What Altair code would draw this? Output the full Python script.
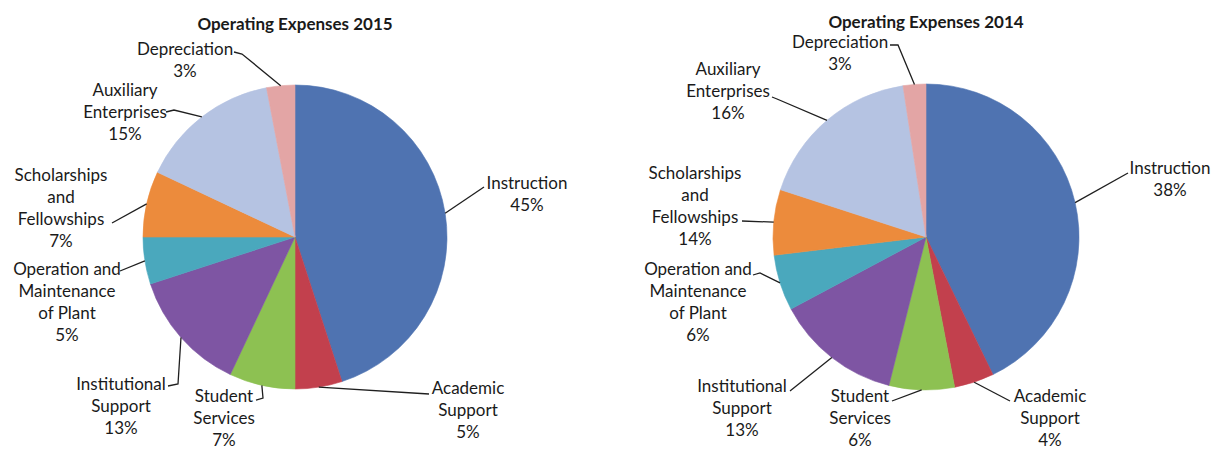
import math
import altair as alt
import pandas as pd

# ---------------- data ----------------
categories = [
    "Instruction", "Academic Support", "Student Services", "Institutional Support",
    "Operation and Maintenance of Plant", "Scholarships and Fellowships",
    "Auxiliary Enterprises", "Depreciation",
]
label_names = [
    "Instruction", "Academic\nSupport", "Student\nServices", "Institutional\nSupport",
    "Operation and\nMaintenance\nof Plant", "Scholarships\nand\nFellowships",
    "Auxiliary\nEnterprises", "Depreciation",
]
# percentages printed on the labels
pct_2015 = [45, 5, 7, 13, 5, 7, 15, 3]
pct_2014 = [38, 4, 6, 13, 6, 14, 16, 3]
# slice sizes as drawn (2014 pie is drawn with different proportions than its labels)
share_2015 = [45, 5, 7, 13, 5, 7, 15, 3]
share_2014 = [42.8, 4.2, 6.9, 13.3, 5.9, 6.9, 17.6, 2.4]

colors = ["#4F73B1", "#C2404D", "#8DC152", "#7E55A3",
          "#4AA8BD", "#EC8B3C", "#B5C3E2", "#E3A5A5"]

# ---------------- layout (pixel offsets of label-block centres from pie centre) ----------------
W, H = 574, 402
FONT = "Lato"
LINE_H = 22

layout_2015 = {
    "R": 152,
    "text": [(232, -42), (173, 174), (-71, 182), (-174, 170),
             (-228, 66), (-234, -28), (-170, -124), (-110, -176)],
    "lead": [[(189, -50)], [(134, 157)], [(-39, 163), (-32, 161)], [(-127, 149), (-117, 147)],
             [(-175, 34)], [(-183, -14)], [(-129, -125), (-121, -127)], [(-61, -185), (-53, -183)]],
}
layout_2014 = {
    "R": 153,
    "text": [(244, -57), (124, 182), (-66, 182), (-184, 172),
             (-228, 66), (-231, -30), (-198, -145), (-86, -183)],
    "lead": [[(202, -64)], [(84, 164)], [(-34, 164)], [(-136, 154)],
             [(-173, 38), (-166, 36)], [(-184, -16)], [(-154, -140), (-149, -138)], [(-36, -192), (-28, -192)]],
}


def panel(title, shares, pcts, lay):
    R = lay["R"]
    total = float(sum(shares))
    slices = pd.DataFrame({
        "category": categories,
        "share": shares,
        "idx": list(range(len(categories))),
    })

    # leader lines: label-side points, then the slice's outer edge at its mid-angle
    rows = []
    cum = 0.0
    for i, (cat, s) in enumerate(zip(categories, shares)):
        mid = (cum + s / 2.0) / total * 2 * math.pi
        cum += s
        pts = list(lay["lead"][i]) + [(R * math.sin(mid), -R * math.cos(mid))]
        for j, (px, py) in enumerate(pts):
            rows.append({"category": cat, "pt": j, "x": px, "y": py})
    leaders = pd.DataFrame(rows)

    label_text = [f"{n}\n{p}%" for n, p in zip(label_names, pcts)]
    n_lines = [t.count("\n") + 1 for t in label_text]
    texts = pd.DataFrame({
        "category": categories,
        "label": label_text,
        "x": [t[0] for t in lay["text"]],
        # multi-line text is anchored at its first line
        "y": [t[1] - (n - 1) * LINE_H / 2.0 for t, n in zip(lay["text"], n_lines)],
    })

    xs = alt.Scale(domain=[-W / 2, W / 2], nice=False, zero=False)
    ys = alt.Scale(domain=[-H / 2, H / 2], nice=False, zero=False, reverse=True)
    cscale = alt.Scale(domain=categories, range=colors)

    arcs = alt.Chart(slices).mark_arc(outerRadius=R, strokeWidth=0.6).encode(
        theta=alt.Theta("share:Q", stack=True),
        color=alt.Color("category:N", scale=cscale, legend=None),
        stroke=alt.Stroke("category:N", scale=cscale, legend=None),
        order=alt.Order("idx:Q", sort="ascending"),
    )

    lines = alt.Chart(leaders).mark_line(color="#1f1f1f", strokeWidth=1.3).encode(
        x=alt.X("x:Q", scale=xs, axis=None),
        y=alt.Y("y:Q", scale=ys, axis=None),
        detail="category:N",
        order="pt:Q",
    )

    labels = alt.Chart(texts).mark_text(
        font=FONT, fontSize=17, lineHeight=LINE_H, lineBreak="\n",
        align="center", baseline="middle", color="#1a1a1a",
    ).encode(
        x=alt.X("x:Q", scale=xs, axis=None),
        y=alt.Y("y:Q", scale=ys, axis=None),
        text="label:N",
    )

    return alt.layer(arcs, lines, labels).properties(
        width=W, height=H,
        title=alt.TitleParams(text=title, font=FONT, fontSize=17, fontWeight="bold",
                              color="#1a1a1a", anchor="middle", offset=2),
    )


left = panel("Operating Expenses 2015", share_2015, pct_2015, layout_2015)
right = panel("Operating Expenses 2014", share_2014, pct_2014, layout_2014)

chart = alt.hconcat(left, right, spacing=57).properties(
    padding={"left": 0, "top": 6, "right": 0, "bottom": 0}, background="white"
).configure_view(strokeWidth=0)

chart.save("out.html", embed_options={"renderer": "svg", "actions": False})
